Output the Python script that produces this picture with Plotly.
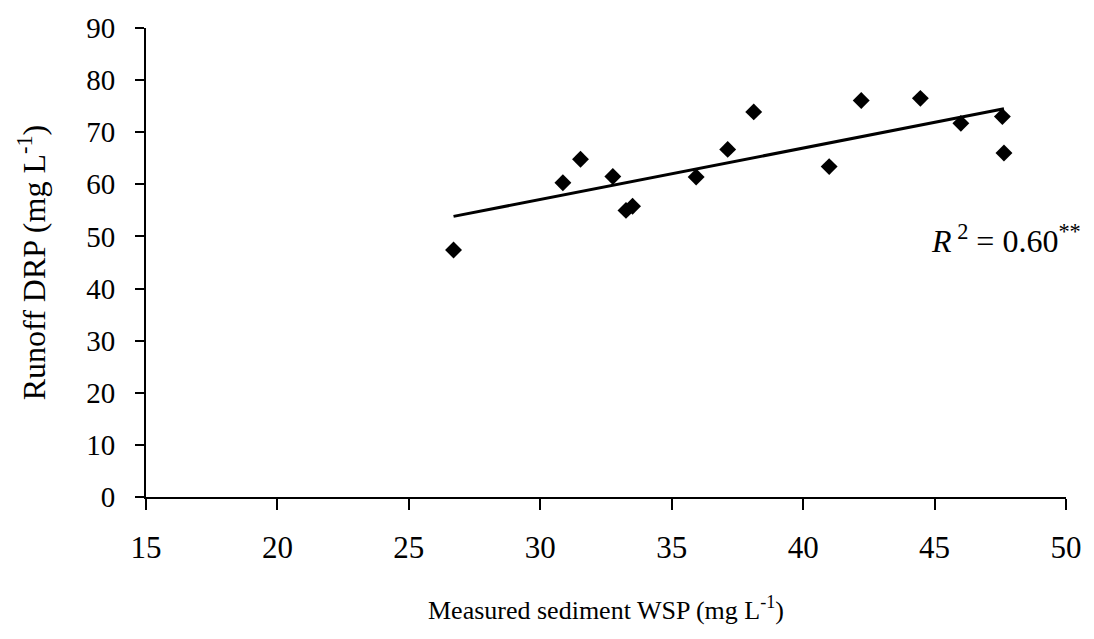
import numpy as np
import plotly.graph_objects as go

wsp = [26.70, 30.86, 31.53, 32.76, 33.26, 33.51, 35.93, 37.13, 38.12, 40.99,
       42.21, 44.46, 46.00, 47.58, 47.64]
drp = [47.4, 60.3, 64.8, 61.5, 55.0, 55.8, 61.4, 66.7, 73.9, 63.4,
       76.1, 76.5, 71.7, 73.0, 66.0]
x_ticks = [15, 20, 25, 30, 35, 40, 45, 50]
y_ticks = [0, 10, 20, 30, 40, 50, 60, 70, 80, 90]

slope, intercept = np.polyfit(wsp, drp, 1)
fit_x = [min(wsp), max(wsp)]
fit_y = [slope * v + intercept for v in fit_x]

FONT = "Liberation Serif, Times New Roman, serif"

fig = go.Figure()
fig.add_trace(go.Scatter(x=fit_x, y=fit_y, mode="lines",
                         line=dict(color="black", width=3), showlegend=False))
fig.add_trace(go.Scatter(x=wsp, y=drp, mode="markers",
                         marker=dict(symbol="diamond", size=13, color="black",
                                     line=dict(width=0)),
                         showlegend=False))

fig.add_annotation(xref="paper", yref="paper", x=1.019, y=0.55,
                   xanchor="right", yanchor="middle", showarrow=False,
                   text="<i>R</i><sup> 2</sup> = 0.60<sup>**</sup>",
                   font=dict(family=FONT, size=32, color="black"))

fig.update_layout(
    width=1094, height=639,
    margin=dict(l=146, r=23, t=21, b=142),
    plot_bgcolor="white", paper_bgcolor="white",
    font=dict(family=FONT, size=25, color="black"),
    xaxis=dict(range=[15, 50], tickvals=x_ticks, showgrid=False, zeroline=False,
               showline=True, linecolor="black", linewidth=2,
               ticks="outside", ticklen=11, tickwidth=2, tickcolor="black",
               ticklabelstandoff=11,
               tickfont=dict(family=FONT, size=31, color="black"),
               title=dict(text="Measured sediment WSP (mg L<sup>-1</sup>)",
                          font=dict(family=FONT, size=26, color="black"),
                          standoff=37)),
    yaxis=dict(range=[0, 90], tickvals=y_ticks, showgrid=False, zeroline=False,
               showline=True, linecolor="black", linewidth=2,
               ticks="outside", ticklen=9, tickwidth=2, tickcolor="black",
               ticklabelstandoff=14,
               tickfont=dict(family=FONT, size=29, color="black"),
               title=dict(text="Runoff DRP (mg L<sup>-1</sup>)",
                          font=dict(family=FONT, size=32, color="black"),
                          standoff=31)),
)

fig.write_html("out.html")
